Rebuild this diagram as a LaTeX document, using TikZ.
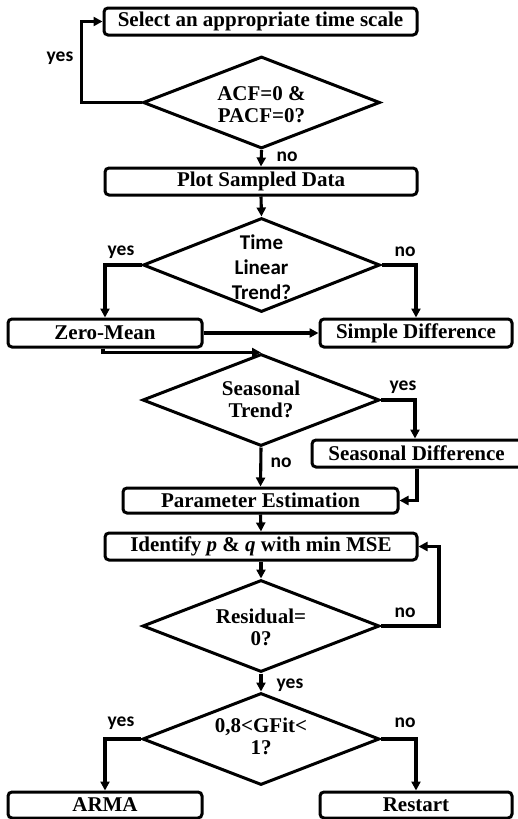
\documentclass[tikz,border=0pt]{standalone}
\usepackage{fontspec}
\setmainfont{Liberation Serif}
\newfontfamily\lblfont{Carlito}
\usetikzlibrary{arrows.meta,shapes.geometric,calc}

\tikzset{
  every picture/.style={x=1pt,y=-1pt},
  flow/.style={line width=3.1pt, line join=miter},
  arr/.style={flow, -{Triangle[length=9pt,width=9pt]}},
  procbox/.style={draw, line width=3pt, rounded corners=4pt, inner sep=0pt,
    minimum height=27pt, font=\fontsize{21}{22}\selectfont\bfseries},
  decision/.style={draw, line width=3pt, diamond, inner sep=0pt,
    minimum width=237pt, minimum height=92pt},
  dtext/.style={align=center, font=\fontsize{21}{22}\selectfont\bfseries},
  stext/.style={align=center, font=\lblfont\fontsize{21}{25}\selectfont\bfseries},
  answer/.style={font=\lblfont\fontsize{19.5}{20}\selectfont\bfseries, inner sep=0pt},
}

\begin{document}
\begin{tikzpicture}
\useasboundingbox (0,0) rectangle (518,819);

% process boxes
\node[procbox, minimum width=313pt] (sel)    at (260.5,21.5) {Select an appropriate time scale};
\node[procbox, minimum width=312pt] (plot)   at (261,181.5)  {Plot Sampled Data};
\node[procbox, minimum width=194pt, minimum height=28pt] (zm) at (105,333) {Zero-Mean};
\node[procbox, minimum width=192pt, minimum height=28pt] (sd) at (416,333) {Simple Difference};
% this box runs past the right edge of the page
\node[procbox, minimum width=218pt] (sdiff)  at (421,453.5)  {\hspace*{-9pt}Seasonal Difference};
\node[procbox, minimum width=275pt, minimum height=25pt] (param) at (260.5,500.5) {Parameter Estimation};
\node[procbox, minimum width=312pt] (ident)  at (261,546.5)  {Identify \textit{p} \& \textit{q} with min MSE};
\node[procbox, minimum width=194pt, minimum height=26pt] (arma) at (105,805) {ARMA};
\node[procbox, minimum width=192pt, minimum height=26pt] (rest) at (416,805) {Restart};

% decisions
\node[decision] (d1) at (261.5,102.5) {};
\node[dtext] (d1t) at ($(d1.center)+(0,2)$) {ACF=0 \&\\PACF=0?};
\node[decision, minimum height=94pt] (d2) at (261.5,265) {};
\node[stext] (d2t) at ($(d2.center)+(0,2)$) {Time\\Linear\\Trend?};
\node[decision] (d3) at (261,400) {};
\node[dtext] (d3t) at ($(d3.center)+(0,-1)$) {Seasonal\\Trend?};
\node[decision] (d4) at (261,626) {};
\node[dtext] (d4t) at ($(d4.center)+(0,1)$) {Residual=\\0?};
\node[decision] (d5) at (261,739) {};
\node[dtext] (d5t) at ($(d5.center)+(0,-3)$) {0,8{<}GFit{<}\\1?};

% connectors
\draw[arr] (d1.west) -- ++(-60,0) |- (sel.west);
\draw[arr] (d1.south) -- (plot.north);
\draw[arr] (plot.south) -- (d2.north);
\draw[arr] (d2.west) -| (zm.north);
\draw[arr] (d2.east) -| (sd.north);
\draw[arr] (zm.east) -- (sd.west);
\draw[arr] ($(zm.south)+(-2,0)$) |- (d3.north);
\draw[arr] (d3.east) -| ($(sdiff.north)+(-6,0)$);
\draw[arr] (d3.south) -- (param.north);
\draw[arr] ($(sdiff.south)+(-4,0)$) |- (param.east);
\draw[arr] (param.south) -- (ident.north);
\draw[arr] (ident.south) -- (d4.north);
\draw[arr] (d4.east) -- ++(58,0) |- (ident.east);
\draw[arr] (d4.south) -- (d5.north);
\draw[arr] (d5.west) -| (arma.north);
\draw[arr] (d5.east) -| (rest.north);

% branch answers
\node[answer] (a1)  at (60,58)   {yes};
\node[answer] (a2)  at (287,157) {no};
\node[answer] (a3)  at (121,252) {yes};
\node[answer] (a4)  at (405,252) {no};
\node[answer] (a5)  at (403,387) {yes};
\node[answer] (a6)  at (281,463) {no};
\node[answer] (a7)  at (405,613) {no};
\node[answer] (a8)  at (290,685) {yes};
\node[answer] (a9)  at (121,723) {yes};
\node[answer] (a10) at (405,723) {no};
\end{tikzpicture}
\end{document}
